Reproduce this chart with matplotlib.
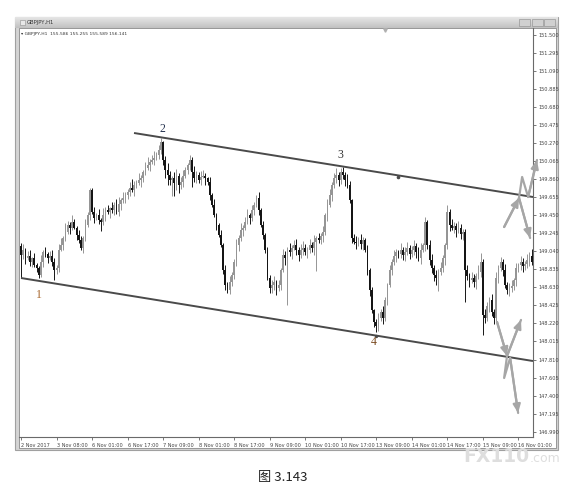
import matplotlib
matplotlib.use("Agg")
import matplotlib.pyplot as plt
from matplotlib.patches import Rectangle
import numpy as np

# GBPJPY H1 closes, 16 bars per row (one time label per row)
closes = [
    149.00, 149.06, 148.96, 148.99, 148.92, 148.96, 148.88, 148.85, 148.77, 148.92, 149.03, 149.01, 148.96, 148.99, 148.92, 148.83,
    148.85, 149.06, 149.11, 149.19, 149.26, 149.34, 149.31, 149.37, 149.31, 149.23, 149.17, 149.08, 149.19, 149.34, 149.45, 149.74,
    149.49, 149.42, 149.45, 149.40, 149.37, 149.45, 149.51, 149.49, 149.53, 149.51, 149.57, 149.49, 149.58, 149.62, 149.65, 149.68,
    149.72, 149.76, 149.74, 149.80, 149.82, 149.85, 149.87, 149.94, 149.99, 150.02, 150.06, 150.08, 150.10, 150.14, 150.19, 150.28,
    150.08, 149.97, 149.91, 149.85, 149.87, 149.82, 149.90, 149.80, 149.83, 149.90, 149.97, 150.02, 150.08, 149.94, 149.87, 149.91,
    149.85, 149.89, 149.90, 149.87, 149.83, 149.68, 149.57, 149.45, 149.34, 149.23, 149.11, 148.83, 148.66, 148.60, 148.69, 148.77,
    148.92, 149.11, 149.19, 149.28, 149.31, 149.37, 149.45, 149.42, 149.51, 149.57, 149.65, 149.51, 149.34, 149.23, 149.06, 148.74,
    148.62, 148.66, 148.69, 148.62, 148.66, 148.83, 149.00, 148.96, 149.06, 149.03, 149.08, 149.11, 149.06, 149.00, 149.06, 149.08,
    149.03, 149.06, 149.11, 149.08, 149.15, 149.19, 149.17, 149.22, 149.26, 149.45, 149.57, 149.68, 149.80, 149.87, 149.91, 149.85,
    149.94, 149.91, 149.85, 149.80, 149.62, 149.19, 149.15, 149.14, 149.17, 149.12, 149.17, 149.06, 148.83, 148.60, 148.37, 148.24,
    148.19, 148.28, 148.35, 148.28, 148.49, 148.66, 148.83, 148.92, 148.99, 149.03, 149.01, 149.06, 149.00, 149.03, 149.08, 149.01,
    149.06, 149.10, 149.03, 148.96, 149.06, 149.11, 149.37, 149.11, 148.94, 148.85, 148.77, 148.74, 148.81, 148.85, 148.96, 149.11,
    149.49, 149.34, 149.31, 149.33, 149.28, 149.31, 149.24, 149.26, 148.83, 148.76, 148.71, 148.74, 148.69, 148.76, 148.81, 148.92,
    148.32, 148.28, 148.42, 148.49, 148.35, 148.28, 148.74, 148.85, 148.92, 148.83, 148.66, 148.60, 148.62, 148.65, 148.71, 148.85,
    148.88, 148.92, 148.87, 148.90, 148.94, 148.99, 148.92, 148.99,
]
first_open = 149.10

# wick lengths in pips (0.01)
wick_up = [
    3, 6, 2, 5, 7, 2, 6, 3, 2, 8, 3, 6, 2, 5, 7, 4,
    3, 6, 8, 3, 10, 5, 3, 8, 4, 2, 5, 4, 3, 7, 4, 2,
    2, 6, 3, 7, 2, 8, 3, 6, 2, 7, 3, 6, 8, 3, 7, 4,
    3, 7, 10, 4, 3, 8, 4, 3, 7, 9, 3, 6, 8, 3, 6, 5,
    2, 5, 7, 4, 3, 7, 8, 3, 6, 7, 3, 2, 6, 3, 7, 4,
    3, 6, 7, 3, 2, 5, 2, 6, 3, 2, 5, 2, 6, 3, 7, 4,
    3, 7, 4, 8, 3, 6, 7, 3, 6, 3, 3, 6, 2, 5, 2, 3,
    3, 6, 7, 3, 6, 2, 7, 4, 3, 8, 3, 6, 7, 3, 6, 8,
    4, 3, 7, 4, 8, 3, 6, 3, 7, 3, 6, 7, 3, 6, 8, 3,
    5, 6, 3, 7, 4, 2, 5, 6, 3, 7, 3, 2, 5, 2, 3, 2,
    3, 6, 3, 7, 3, 2, 6, 3, 7, 4, 3, 8, 3, 6, 7, 3,
    4, 7, 3, 6, 8, 3, 6, 3, 6, 7, 3, 6, 3, 7, 4, 3,
    8, 3, 7, 4, 3, 7, 4, 3, 3, 6, 3, 7, 4, 3, 7, 10,
    3, 7, 4, 3, 6, 3, 7, 3, 6, 3, 7, 3, 6, 7, 3, 6,
    3, 7, 4, 3, 7, 4, 8, 3,
]
wick_dn = [
    26, 5, 6, 2, 5, 6, 2, 5, 3, 2, 6, 3, 5, 2, 5, 12,
    5, 5, 2, 6, 3, 2, 7, 3, 2, 6, 3, 2, 6, 3, 2, 5,
    3, 6, 2, 5, 10, 3, 6, 2, 7, 3, 6, 2, 5, 7, 3, 6,
    4, 5, 2, 7, 4, 3, 8, 4, 3, 2, 7, 3, 6, 2, 5, 4,
    6, 10, 12, 6, 18, 15, 8, 10, 5, 6, 3, 5, 6, 17, 4, 5,
    3, 6, 2, 7, 3, 6, 3, 2, 6, 3, 2, 5, 6, 3, 5, 4,
    4, 5, 7, 3, 6, 3, 2, 7, 3, 6, 3, 6, 2, 5, 4, 3,
    5, 5, 6, 8, 3, 6, 3, 7, 53, 4, 8, 3, 6, 7, 3, 6,
    3, 7, 4, 5, 8, 33, 4, 5, 7, 3, 6, 3, 7, 4, 5, 7,
    4, 5, 7, 4, 3, 6, 3, 7, 4, 5, 6, 3, 6, 7, 3, 6,
    7, 6, 3, 7, 3, 6, 3, 6, 3, 7, 4, 5, 6, 7, 3, 6,
    3, 6, 7, 3, 6, 3, 7, 4, 5, 6, 7, 8, 15, 4, 5, 7,
    4, 7, 3, 6, 8, 3, 6, 7, 37, 4, 7, 3, 6, 8, 3, 6,
    23, 6, 3, 7, 4, 7, 3, 6, 3, 7, 4, 5, 7, 4, 5, 6,
    4, 5, 7, 4, 5, 7, 4, 3,
]

price_ticks = [151.500, 151.295, 151.090, 150.885, 150.680, 150.475, 150.270, 150.065,
               149.860, 149.655, 149.450, 149.245, 149.040, 148.835, 148.630, 148.425,
               148.220, 148.015, 147.810, 147.605, 147.400, 147.195, 146.990]
time_labels = ["2 Nov 2017", "3 Nov 08:00", "6 Nov 01:00", "6 Nov 17:00", "7 Nov 09:00",
               "8 Nov 01:00", "8 Nov 17:00", "9 Nov 09:00", "10 Nov 01:00", "10 Nov 17:00",
               "13 Nov 09:00", "14 Nov 01:00", "14 Nov 17:00", "15 Nov 09:00", "16 Nov 01:00"]
bars_per_label = 16

# trend lines: (bar index, price)
upper_line = [(50.9, 150.386), (230.6, 149.658)]
lower_line = [(0.0, 148.737), (230.6, 147.793)]

# swing point labels
swing_labels = ["1", "2", "3", "4"]
swing_x = [8.1, 63.5, 143.7, 159.0]
swing_y = [148.54, 150.43, 150.14, 148.01]
swing_colors = ["#a8672e", "#24324f", "#333333", "#7a4a20"]

# scenario arrows near the channel edges
arrows_up = [
    [(217.6, 149.317), (224.3, 149.647)],
    [(224.3, 149.647), (225.7, 149.886), (228.4, 149.658), (232.4, 150.079)],
    [(224.3, 149.647), (229.3, 149.192)],
]
arrows_dn = [
    [(214.4, 148.237), (218.9, 147.850)],
    [(218.9, 147.850), (225.2, 148.260)],
    [(218.9, 147.850), (217.6, 147.600), (220.3, 147.828), (223.9, 147.202)],
]

W, H = 584, 493

fig = plt.figure(figsize=(W / 100, H / 100), dpi=100)

# background in pixel coordinates (y downwards)
bg = fig.add_axes([0, 0, 1, 1], zorder=-5)
bg.set_axis_off()
bg.add_patch(Rectangle((15, 17), 543, 433, facecolor="#d4d4d4", edgecolor="#a0a0a0",
                       linewidth=0.8))
bg.add_patch(Rectangle((19, 28), 537, 420, facecolor="white", edgecolor="#8a8a8a",
                       linewidth=0.6))
shade = np.linspace(0.90, 0.76, 20)
grad = np.dstack([shade, shade, shade]).reshape(20, 1, 3)
bg.imshow(grad, aspect="auto", extent=[15, 558, 28, 17], zorder=2)
bg.text(27, 22.5, "GBPJPY,H1", fontsize=3.8, color="#333333", va="center", zorder=3)
bg.add_patch(Rectangle((20, 19.5), 5, 5, facecolor="#e8e8e8", edgecolor="#909090",
                       linewidth=0.4, zorder=3))
for bx in [519, 532, 544]:
    bg.add_patch(Rectangle((bx, 19), 11, 7, facecolor="#d0d0d0", edgecolor="#8a8a8a",
                           linewidth=0.4, zorder=3))
bg.set_xlim(0, W)
bg.set_ylim(H, 0)

ax = fig.add_axes([19 / W, 1 - 437 / H, (533 - 19) / W, (437 - 28) / H])
ax.patch.set_alpha(0)

n = len(closes)
idx = np.arange(n)
opens = np.array([first_open] + closes[:-1])
cl = np.array(closes)
hi = np.maximum(opens, cl) + np.array(wick_up) / 100
lo = np.minimum(opens, cl) - np.array(wick_dn) / 100
up = cl >= opens
colors = np.where(up, "#959595", "#151515")

ax.vlines(idx, lo, hi, colors=colors, linewidth=0.7, zorder=2)
body = np.maximum(np.abs(cl - opens), 0.008)
ax.bar(idx, body, bottom=np.minimum(opens, cl), width=0.75, color=colors,
       linewidth=0, zorder=3)

# channel lines
for line in (upper_line, lower_line):
    xs, ys = zip(*line)
    ax.plot(xs, ys, color="#4a4a4a", linewidth=1.4, zorder=4, solid_capstyle="butt")
ax.plot([169.8], [149.886], marker="o", ms=1.6, color="#4a4a4a", zorder=5)
ax.plot([160.0], [148.08], marker="o", ms=1.4, color="#4a4a4a", zorder=5)

for lab, x, y, c in zip(swing_labels, swing_x, swing_y, swing_colors):
    ax.text(x, y, lab, fontsize=8.5, color=c, family="Liberation Serif",
            ha="center", va="center", zorder=6)

# scenario arrows
for group in (arrows_up, arrows_dn):
    for path in group:
        xs, ys = zip(*path)
        ax.plot(xs, ys, color="#a6a6a6", linewidth=1.6, zorder=5,
                clip_on=False, solid_capstyle="round")
        ax.annotate("", xy=path[-1], xytext=path[-2],
                    arrowprops=dict(arrowstyle="-|>,head_length=0.5,head_width=0.22",
                                    color="#a6a6a6", linewidth=1.6,
                                    shrinkA=0, shrinkB=0),
                    annotation_clip=False, zorder=5)

ax.set_xlim(-0.9, 230.6)
ax.set_ylim(146.929, 151.580)

ax.yaxis.tick_right()
ax.set_yticks(price_ticks)
ax.set_yticklabels([f"{p:.3f}" for p in price_ticks])
ax.tick_params(axis="y", labelsize=3.6, colors="#444444", length=2.5, width=0.5, pad=1.5)

tick_idx = [i * bars_per_label for i in range(len(time_labels))]
ax.set_xticks(tick_idx)
ax.set_xticklabels(time_labels, ha="left")
ax.tick_params(axis="x", labelsize=3.6, colors="#444444", length=2.5, width=0.5, pad=1.5)

for side in ("left", "top"):
    ax.spines[side].set_visible(False)
for side in ("right", "bottom"):
    ax.spines[side].set_color("#6a6a6a")
    ax.spines[side].set_linewidth(0.8)

ax.text(0.004, 0.99, "\u25be GBPJPY,H1  155.586 155.255 155.589 156.141", fontsize=3.2,
        color="#333333", transform=ax.transAxes, va="top", ha="left")
ax.plot([0.712], [0.995], marker="v", ms=2.5, color="#b0b0b0", transform=ax.transAxes,
        clip_on=False)

# watermark and caption
fig.text(463 / W, 1 - 462 / H, "FX110", fontsize=13.5, fontweight="bold", color="#dedede",
         ha="left", va="baseline", zorder=10)
fig.text(530 / W, 1 - 462 / H, ".com", fontsize=9, color="#dedede",
         ha="left", va="baseline", zorder=10)
fig.text(0.485, 1 - 478 / H, "图 3.143", fontsize=9.5, color="#222222", ha="center",
         va="center", family=["Noto Sans CJK SC", "DejaVu Sans"])

fig.savefig("out.png", dpi=100)
